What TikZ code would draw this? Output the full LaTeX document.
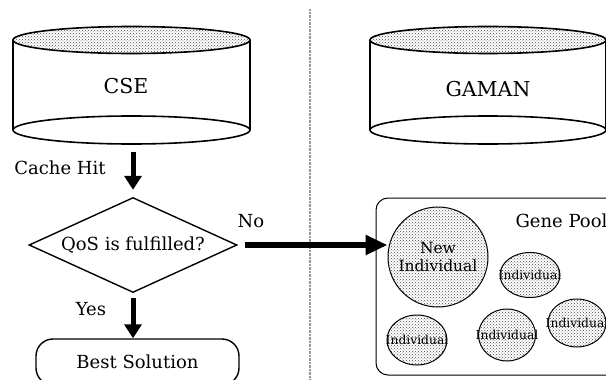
\documentclass[tikz,border=0pt]{standalone}
\usepackage{fontspec}
\setmainfont{DejaVu Serif}
\usetikzlibrary{shapes.geometric,arrows.meta,patterns}

\tikzset{
  stip/.style={pattern=crosshatch dots, pattern color=black!70},
  edge/.style={line width=1.6pt},
  bigtext/.style={font=\fontsize{20.5}{23}\selectfont},
  labtext/.style={font=\fontsize{18}{20}\selectfont},
  smalltext/.style={font=\fontsize{12.3}{14}\selectfont},
  fatarrow/.style={line width=5pt, -{Triangle[length=14pt,width=17pt]}},
  widearrow/.style={line width=6.5pt, -{Triangle[length=22pt,width=19pt]}},
  indiv/.style={ellipse, draw, line width=1pt, stip, inner sep=0pt},
}

\begin{document}
\begin{tikzpicture}[x=1pt,y=-1pt]
\useasboundingbox (0,0) rectangle (606,380);
\clip (0,0) rectangle (606,380);

% separator between the two sides
\draw[gray!80, line width=1.2pt, dash pattern=on 0.9pt off 0.5pt] (310,9) -- (310,380);

% CSE cylinder
\draw[edge] (13,40) -- (13,130);
\draw[edge] (250,40) -- (250,130);
\draw[edge, stip] (131.5,40) ellipse [x radius=118.5, y radius=13.5];
\draw[edge] (131.5,130) ellipse [x radius=118.5, y radius=14];
\node[bigtext] (cse) at (126,86) {CSE};

% GAMAN cylinder
\draw[edge] (370,40) -- (370,130);
\draw[edge] (606,40) -- (606,130);
\draw[edge, stip] (488,40) ellipse [x radius=118, y radius=13.5];
\draw[edge] (488,130) ellipse [x radius=118, y radius=14];
\node[bigtext] (gaman) at (488,89) {GAMAN};

% decision flow
\node[labtext] (cache) at (60,168) {Cache Hit};
\coordinate (hitstart) at (133,152);
\node[diamond, draw, line width=1.4pt, aspect=2.2, inner sep=0pt,
      minimum width=208pt, minimum height=95pt, labtext] (qos) at (133,245) {QoS is fulfilled?};
\draw[fatarrow, shorten >=7pt] (hitstart) -- (qos.north);

\node[labtext] (yes) at (91,309) {Yes};
\node[draw, line width=1.4pt, rounded corners=17pt, minimum width=203pt,
      minimum height=46pt, labtext] (best) at (137.5,362) {Best Solution};
\draw[fatarrow, shorten <=5pt] (qos.south) -- (qos.south |- best.north);

% gene pool
\draw[line width=1pt, rounded corners=12pt] (376,198) rectangle (630,375);
\node[labtext, anchor=west] (pool) at (512,221) {Gene Pool};
\node[circle, draw, line width=1pt, stip, minimum size=100pt, inner sep=0pt] (newind) at (438,257) {};
\node[align=center, font=\fontsize{15.5}{18}\selectfont] (newlbl) at (newind) {New\\Individual};

% individuals: shapes first, labels on top (labels may overhang the outline)
\node[indiv, minimum width=60pt, minimum height=45pt] (i1) at (530,275) {};
\node[indiv, minimum width=60pt, minimum height=50pt] (i2) at (417,340) {};
\node[indiv, minimum width=57pt, minimum height=52pt] (i3) at (507,335) {};
\node[indiv, minimum width=58pt, minimum height=48pt] (i4) at (577,323) {};
\node[smalltext] (l1) at (i1) {Individual};
\node[smalltext] (l2) at (i2) {Individual};
\node[smalltext] (l3) at (i3) {Individual};
\node[smalltext] (l4) at (i4) {Individual};

\node[labtext] (no) at (251,221) {No};
\draw[widearrow, shorten <=7pt] (qos.east) -- (qos.east -| newind.west);
\end{tikzpicture}
\end{document}
